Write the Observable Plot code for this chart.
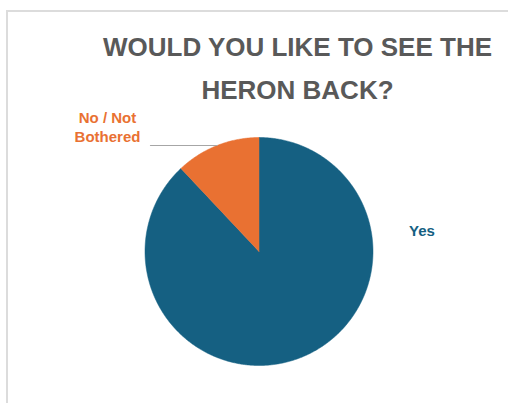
<!DOCTYPE html>
<html>
<head>
<meta charset="utf-8">
<script src="https://cdn.jsdelivr.net/npm/d3@7"></script>
<script src="https://cdn.jsdelivr.net/npm/@observablehq/plot@0.6"></script>
<style>
  html, body { margin: 0; padding: 0; background: #fff; overflow: hidden; }
  #wrap { position: relative; width: 508px; height: 403px; overflow: hidden; font-family: "Liberation Sans", Arial, sans-serif; }
  #frameL { position: absolute; left: 6px; top: 10px; width: 2px; height: 393px; background: #dcdcdc; }
  #frameT { position: absolute; left: 6px; top: 10px; width: 502px; height: 2px; background: #dcdcdc; }
  #title { position: relative; height: 105px; box-sizing: border-box; padding-top: 26px; padding-left: 87px; text-align: center; font-weight: bold; font-size: 26px; line-height: 43px; color: #595959; }
  #chart { position: relative; height: 298px; }
</style>
</head>
<body>
<div id="wrap">
  <div id="frameL"></div>
  <div id="frameT"></div>
  <div id="title">WOULD YOU LIKE TO SEE THE<br>HERON BACK?</div>
  <div id="chart"></div>
</div>
<script>
// ---- data ----
const categories = ["Yes", "No / Not Bothered"];
const values = [88, 12];
const labelTexts = ["Yes", "No / Not\nBothered"];
const colors = ["#156082", "#E97132"];

// ---- layout (styles / positions, in pie-radius units) ----
const W = 508, H = 298, R = 114, CX = 258.5, CY = 146;
const xDomain = [-CX / R, (W - CX) / R];
const yDomain = [-(H - CY) / R, CY / R];
const labelPos = [[1.43, 0.193], [-1.329, 1.095]];
const leaderStartX = -0.952;

// ---- pie geometry from data ----
const arcs = d3.pie().sort(null).value(d => d.value)(
  categories.map((c, i) => ({ key: c, value: values[i], color: colors[i] }))
);
const slicePts = [];
arcs.forEach(a => {
  slicePts.push({ key: a.data.key, x: 0, y: 0 });
  const n = Math.max(2, Math.ceil((a.endAngle - a.startAngle) / (Math.PI / 360)));
  for (let k = 0; k <= n; k++) {
    const t = a.startAngle + (a.endAngle - a.startAngle) * k / n;
    slicePts.push({ key: a.data.key, x: Math.sin(t), y: Math.cos(t) });
  }
  slicePts.push({ key: a.data.key, x: 0, y: 0 });
});

const labels = arcs.map((a, i) => ({
  key: a.data.key, text: labelTexts[i], color: colors[i], x: labelPos[i][0], y: labelPos[i][1]
}));

// leader line for the small slice: from label to arc midpoint
const small = arcs[1];
const mid = (small.startAngle + small.endAngle) / 2;
const leader = [
  { x: leaderStartX, y: Math.cos(mid) },
  { x: Math.sin(mid), y: Math.cos(mid) }
];

const plot = Plot.plot({
  width: W, height: H,
  margin: 0,
  x: { domain: xDomain, axis: null },
  y: { domain: yDomain, axis: null },
  color: { domain: categories, range: colors },
  style: { fontFamily: "Liberation Sans, Arial, sans-serif", background: "transparent", overflow: "visible" },
  marks: [
    Plot.line(slicePts, {
      x: "x", y: "y", z: "key", fill: "key", stroke: "key", strokeWidth: 0.5,
      curve: "linear",
      style: "filter: drop-shadow(0px 0px 2px rgba(120,150,170,0.45))"
    }),
    Plot.line(leader, { x: "x", y: "y", stroke: "#a6a6a6", strokeWidth: 1.2 }),
    Plot.text(labels, {
      x: "x", y: "y", text: "text", fill: "key",
      fontSize: 15, fontWeight: "bold", lineHeight: 1.27,
      textAnchor: "middle", lineAnchor: "middle",
      style: "letter-spacing: 0.7px; word-spacing: 2px"
    })
  ]
});
document.getElementById("chart").appendChild(plot);
</script>
</body>
</html>
